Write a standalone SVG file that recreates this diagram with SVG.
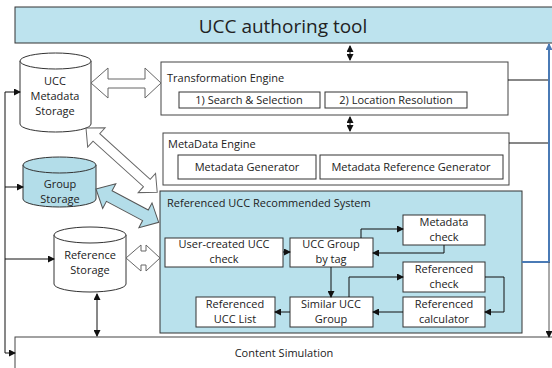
<svg xmlns="http://www.w3.org/2000/svg" width="552" height="368" viewBox="0 0 552 368">
<defs>
<marker id="ah" markerWidth="7" markerHeight="7" refX="6" refY="3.5" orient="auto" markerUnits="userSpaceOnUse">
<path d="M0,0 L7,3.5 L0,7 Z" fill="#111"/>
</marker>
<marker id="ahs" markerWidth="7" markerHeight="7" refX="6" refY="3.5" orient="auto-start-reverse" markerUnits="userSpaceOnUse">
<path d="M0,0 L7,3.5 L0,7 Z" fill="#111"/>
</marker>
<marker id="ahb" markerWidth="7" markerHeight="7" refX="6" refY="3.5" orient="auto" markerUnits="userSpaceOnUse">
<path d="M0,0 L7,3.5 L0,7 Z" fill="#4a7ab5"/>
</marker>
</defs>
<style>
text{font-family:"Open Sans","Noto Sans","DejaVu Sans",sans-serif;fill:#222;}
.box{fill:#fff;stroke:#444;stroke-width:1;}
.ibox{fill:#fff;stroke:#333;stroke-width:1;}
.blue{fill:#bde3ee;stroke:#333;stroke-width:1;}
.cyl{fill:#fff;stroke:#333;stroke-width:1;}
.cylb{fill:#b3dde9;stroke:#333;stroke-width:1;}
.t11{font-size:11px;}
.t12{font-size:11px;text-anchor:middle;}
.c{text-anchor:middle;}
.ln{fill:none;stroke:#111;stroke-width:1;}
.harr{fill:#fff;stroke:#666;stroke-width:1;}
.harrb{fill:#b3dde9;stroke:#555;stroke-width:1;}
</style>

<g id="title">
<rect x="15" y="7" width="545" height="36" class="blue"/>
<text x="283" y="33" class="c" style="font-size:19px">UCC authoring tool</text>
</g>

<g id="transformation-engine">
<rect x="161" y="62" width="347" height="53" class="box"/>
<text x="167" y="82" class="t11">Transformation Engine</text>
<rect x="179" y="92" width="141" height="16" class="ibox"/>
<text x="249" y="104" class="t11 c">1) Search &amp; Selection</text>
<rect x="325" y="92" width="142" height="16" class="ibox"/>
<text x="396" y="104" class="t11 c">2) Location Resolution</text>
</g>

<g id="metadata-engine">
<rect x="163" y="133" width="346" height="52" class="box"/>
<text x="168" y="148" class="t11">MetaData Engine</text>
<rect x="178" y="155" width="138" height="24" class="ibox"/>
<text x="247" y="171" class="t11 c">Metadata Generator</text>
<rect x="320" y="155" width="183" height="24" class="ibox"/>
<text x="411" y="171" class="t11 c">Metadata Reference Generator</text>
</g>

<g id="rucc-system">
<rect x="160" y="191" width="362" height="142" fill="#b9e1ec" stroke="#333" stroke-width="1"/>
<text x="167" y="207" class="t11">Referenced UCC Recommended System</text>
</g>

<g id="user-created-check">
<rect x="165" y="238" width="118" height="29" class="ibox"/>
<text x="224" y="248" class="t12">User-created UCC</text>
<text x="224" y="263" class="t12">check</text>
</g>
<g id="ucc-group-by-tag">
<rect x="290" y="238" width="83" height="29" class="ibox"/>
<text x="331" y="248" class="t12">UCC Group</text>
<text x="331" y="263" class="t12">by tag</text>
</g>
<g id="metadata-check">
<rect x="403" y="215" width="82" height="30" class="ibox"/>
<text x="444" y="226" class="t12">Metadata</text>
<text x="444" y="241" class="t12">check</text>
</g>
<g id="referenced-check">
<rect x="403" y="262" width="82" height="30" class="ibox"/>
<text x="444" y="273" class="t12">Referenced</text>
<text x="444" y="288" class="t12">check</text>
</g>
<g id="referenced-calculator">
<rect x="403" y="297" width="82" height="30" class="ibox"/>
<text x="444" y="308" class="t12">Referenced</text>
<text x="444" y="323" class="t12">calculator</text>
</g>
<g id="similar-ucc-group">
<rect x="290" y="297" width="83" height="30" class="ibox"/>
<text x="331" y="308" class="t12">Similar UCC</text>
<text x="331" y="323" class="t12">Group</text>
</g>
<g id="referenced-ucc-list">
<rect x="196" y="297" width="79" height="30" class="ibox"/>
<text x="235" y="308" class="t12">Referenced</text>
<text x="235" y="323" class="t12">UCC List</text>
</g>

<g id="content-simulation">
<rect x="15" y="337" width="545" height="40" class="box" stroke="#222"/>
<text x="284" y="357" class="t11 c">Content Simulation</text>
</g>

<g id="ucc-metadata-storage">
<path d="M20,61 A35.5,8 0 0 1 91,61 L91,124 A35.5,8 0 0 1 20,124 Z" class="cyl"/>
<path d="M20,61 A35.5,8 0 0 0 91,61" class="cyl" fill="none"/>
<text x="55" y="85" class="t12">UCC</text>
<text x="55" y="100" class="t12">Metadata</text>
<text x="55" y="115" class="t12">Storage</text>
</g>
<g id="group-storage">
<path d="M23,165 A36.5,8 0 0 1 96,165 L96,199 A36.5,8 0 0 1 23,199 Z" class="cylb"/>
<path d="M23,165 A36.5,8 0 0 0 96,165" class="cylb" fill="none"/>
<text x="60" y="188" class="t12">Group</text>
<text x="60" y="203" class="t12">Storage</text>
</g>
<g id="reference-storage">
<path d="M54,235 A36,8 0 0 1 126,235 L126,284 A36,8 0 0 1 54,284 Z" class="cyl"/>
<path d="M54,235 A36,8 0 0 0 126,235" class="cyl" fill="none"/>
<text x="90" y="259" class="t12">Reference</text>
<text x="90" y="274" class="t12">Storage</text>
</g>

<g id="connectors">
<polygon class="harr" points="91,83 108,68 108,79 145,79 145,68 161,83 145,98 145,88 108,88 108,98"/>
<g transform="translate(86,128) rotate(42.1)">
<polygon class="harr" points="0,0 14,-13 14,-5 82,-5 82,-13 96,0 82,13 82,5 14,5 14,13"/>
</g>
<g transform="translate(96,189) rotate(28)">
<polygon class="harrb" points="0,0 15,-14 15,-6 56,-6 56,-14 71,0 56,14 56,6 15,6 15,14"/>
</g>
<polygon class="harr" points="126,258 141,245 141,251 146,251 146,245 160,258 146,271 146,265 141,265 141,271"/>

<line x1="350" y1="46" x2="350" y2="60" class="ln" marker-start="url(#ahs)" marker-end="url(#ah)"/>
<line x1="350" y1="117" x2="350" y2="131" class="ln" marker-start="url(#ahs)" marker-end="url(#ah)"/>
<line x1="97" y1="294" x2="97" y2="336" class="ln" marker-start="url(#ahs)" marker-end="url(#ah)"/>

<path d="M5,92 L5,353" class="ln"/>
<path d="M5,92 L20,92" class="ln" marker-end="url(#ah)"/>
<path d="M5,187 L23,187" class="ln" marker-end="url(#ah)"/>
<path d="M5,259 L54,259" class="ln" marker-end="url(#ah)"/>
<path d="M5,353 L15,353" class="ln" marker-end="url(#ah)"/>

<path d="M508,80 L549,80" class="ln"/>
<path d="M509,143 L549,143" class="ln"/>
<path d="M522,262 L549,262 L549,44" fill="none" stroke="#4a7ab5" stroke-width="2" marker-end="url(#ahb)"/>
<path d="M549,262 L549,337" fill="none" stroke="#555" stroke-width="1" marker-end="url(#ah)"/>

<path d="M283,252 L290,252" class="ln" marker-end="url(#ah)"/>
<path d="M361,238 L361,229 L403,229" class="ln" marker-end="url(#ah)"/>
<path d="M444,245 L444,253 L373,253" class="ln" marker-end="url(#ah)"/>
<path d="M331,267 L331,297" class="ln" marker-end="url(#ah)"/>
<path d="M349,297 L349,277 L403,277" class="ln" marker-end="url(#ah)"/>
<path d="M485,277 L504,277 L504,312 L485,312" class="ln" marker-end="url(#ah)"/>
<path d="M403,312 L373,312" class="ln" marker-end="url(#ah)"/>
<path d="M290,312 L275,312" class="ln" marker-end="url(#ah)"/>
</g>
</svg>
